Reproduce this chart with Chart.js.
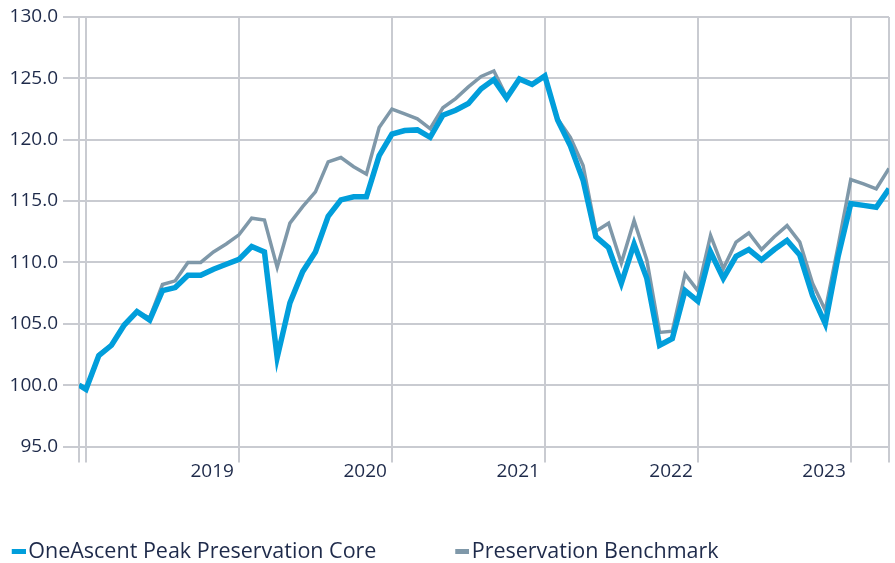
<!DOCTYPE html>
<html>
<head>
<meta charset="utf-8">
<script src="https://cdn.jsdelivr.net/npm/chart.js@4.4.0/dist/chart.umd.min.js"></script>
<style>
  html, body { margin: 0; padding: 0; background: #ffffff; }
  #wrap { width: 895px; height: 563px; }
</style>
</head>
<body>
<div id="wrap"><canvas id="c" width="895" height="563"></canvas></div>
<script>
// ---------------- DATA ----------------
const dates = [
  '2017-12-14', '2017-12-31',
  '2018-01-31', '2018-02-28', '2018-03-31', '2018-04-30', '2018-05-31', '2018-06-30',
  '2018-07-31', '2018-08-31', '2018-09-30', '2018-10-31', '2018-11-30', '2018-12-31',
  '2019-01-31', '2019-02-28', '2019-03-31', '2019-04-30', '2019-05-31', '2019-06-30',
  '2019-07-31', '2019-08-31', '2019-09-30', '2019-10-31', '2019-11-30', '2019-12-31',
  '2020-01-31', '2020-02-29', '2020-03-31', '2020-04-30', '2020-05-31', '2020-06-30',
  '2020-07-31', '2020-08-31', '2020-09-30', '2020-10-31', '2020-11-30', '2020-12-31',
  '2021-01-31', '2021-02-28', '2021-03-31', '2021-04-30', '2021-05-31', '2021-06-30',
  '2021-07-31', '2021-08-31', '2021-09-30', '2021-10-31', '2021-11-30', '2021-12-31',
  '2022-01-31', '2022-02-28', '2022-03-31', '2022-04-30', '2022-05-31', '2022-06-30',
  '2022-07-31', '2022-08-31', '2022-09-30', '2022-10-31', '2022-11-30', '2022-12-31',
  '2023-01-31', '2023-02-28', '2023-03-31'
];

const coreValues = [
  100.0, 99.65,
  102.4, 103.25, 104.9, 106.0, 105.3, 107.7, 107.95, 108.95, 108.95, 109.45, 109.85, 110.25,
  111.3, 110.85, 102.25, 106.7, 109.25, 110.85, 113.75, 115.1, 115.35, 115.35, 118.7, 120.45,
  120.75, 120.8, 120.2, 122.0, 122.4, 122.95, 124.15, 124.9, 123.4, 124.95, 124.5, 125.2,
  121.6, 119.5, 116.7, 112.1, 111.2, 108.3, 111.5, 108.7, 103.25, 103.8, 107.7, 106.85,
  110.85, 108.7, 110.5, 111.05, 110.2, 111.05, 111.8, 110.6, 107.3, 105.0, 110.45, 114.8,
  114.65, 114.5, 116.0
];

const benchmarkValues = [
  100.0, 99.7,
  102.5, 103.3, 104.95, 105.9, 105.5, 108.2, 108.5, 110.0, 110.0, 110.85, 111.5, 112.25,
  113.6, 113.45, 109.6, 113.2, 114.55, 115.75, 118.2, 118.55, 117.8, 117.2, 121.0, 122.5,
  122.1, 121.7, 120.9, 122.6, 123.35, 124.3, 125.15, 125.6, 123.5, 125.0, 124.55, 125.2,
  121.7, 120.2, 117.9, 112.55, 113.2, 109.95, 113.4, 110.2, 104.3, 104.4, 109.05, 107.7,
  112.2, 109.5, 111.65, 112.4, 111.05, 112.1, 113.0, 111.65, 108.3, 106.1, 111.3, 116.75,
  116.4, 116.0, 117.65
];

const seriesNames = ['OneAscent Peak Preservation Core', 'Preservation Benchmark'];
const yearTickDates = ['2018-01-01', '2019-01-01', '2020-01-01', '2021-01-01', '2022-01-01', '2023-01-01'];
const yearTickLabels = ['', '2019', '2020', '2021', '2022', '2023'];
const yMin = 95, yMax = 130, yStep = 5;

// ---------------- STYLE ----------------
const BLUE = '#019EDB';
const GREY = '#7F98A9';
const TEXT = '#1E2A4A';
const GRID = '#C9CBD1';
const FONT = '"Open Sans", "Noto Sans", sans-serif';
const TICK_SIZE = 19;
const LEGEND_SIZE = 21.5;

// month index (0 = end of Dec 2017)
function monthIndex(s) {
  const [y, m, d] = s.split('-').map(Number);
  const dim = new Date(y, m, 0).getDate();
  return (y - 2018) * 12 + (m - 1) + (d === 1 ? 0 : d / dim);
}
const xs = dates.map(monthIndex);
const yearPos = yearTickDates.map(monthIndex);

function legendSwatch(color) {
  const cv = document.createElement('canvas');
  cv.width = 24; cv.height = 5;
  const g = cv.getContext('2d');
  g.fillStyle = color;
  g.fillRect(10, 0, 14, 5);
  return cv;
}

const coreData = xs.map((x, i) => ({ x, y: coreValues[i] }));
const benchData = xs.map((x, i) => ({ x, y: benchmarkValues[i] }));
const colors = [BLUE, GREY];
const spacer = '\u00A0'.repeat(12);

new Chart(document.getElementById('c'), {
  type: 'line',
  data: {
    datasets: [
      { label: seriesNames[0], data: coreData, borderColor: BLUE, backgroundColor: BLUE,
        borderWidth: 5.5, pointRadius: 0, tension: 0, fill: false },
      { label: seriesNames[1], data: benchData, borderColor: GREY, backgroundColor: GREY,
        borderWidth: 3.5, pointRadius: 0, tension: 0, fill: false }
    ]
  },
  options: {
    responsive: false,
    animation: false,
    events: [],
    layout: { padding: { left: 0, right: 6, top: 17, bottom: -9.5 } },
    scales: {
      x: {
        type: 'linear',
        min: xs[0],
        max: xs[xs.length - 1],
        afterBuildTicks: (s) => {
          s.ticks = [s.min, ...yearPos, s.max].map(v => ({ value: v }));
        },
        afterFit: (s) => { s.height = 84.5; },
        ticks: {
          autoSkip: false, maxRotation: 0, minRotation: 0,
          align: 'end', labelOffset: -5, padding: -2,
          color: TEXT, font: { family: FONT, size: TICK_SIZE },
          callback: (v) => {
            const i = yearPos.indexOf(v);
            return i >= 0 ? yearTickLabels[i] : '';
          }
        },
        grid: { color: GRID, lineWidth: 2, tickLength: 16 },
        border: { display: false }
      },
      y: {
        min: yMin, max: yMax,
        afterFit: (s) => { s.width = 79; },
        ticks: {
          stepSize: yStep, padding: 5,
          color: TEXT, font: { family: FONT, size: TICK_SIZE },
          callback: (v) => Number(v).toFixed(1)
        },
        grid: { color: GRID, lineWidth: 2, tickLength: 16 },
        border: { display: false }
      }
    },
    plugins: {
      tooltip: { enabled: false },
      legend: {
        position: 'bottom',
        align: 'start',
        labels: {
          usePointStyle: true,
          pointStyleWidth: 7.5,
          boxHeight: 5,
          padding: 10,
          color: TEXT,
          font: { family: FONT, size: LEGEND_SIZE },
          generateLabels: (chart) => chart.data.datasets.map((ds, i) => ({
            text: ds.label + (i === 0 ? spacer : ''),
            fillStyle: colors[i],
            strokeStyle: colors[i],
            fontColor: TEXT,
            lineWidth: 0,
            pointStyle: legendSwatch(colors[i]),
            datasetIndex: i,
            hidden: false
          }))
        }
      }
    }
  }
});
</script>
</body>
</html>
